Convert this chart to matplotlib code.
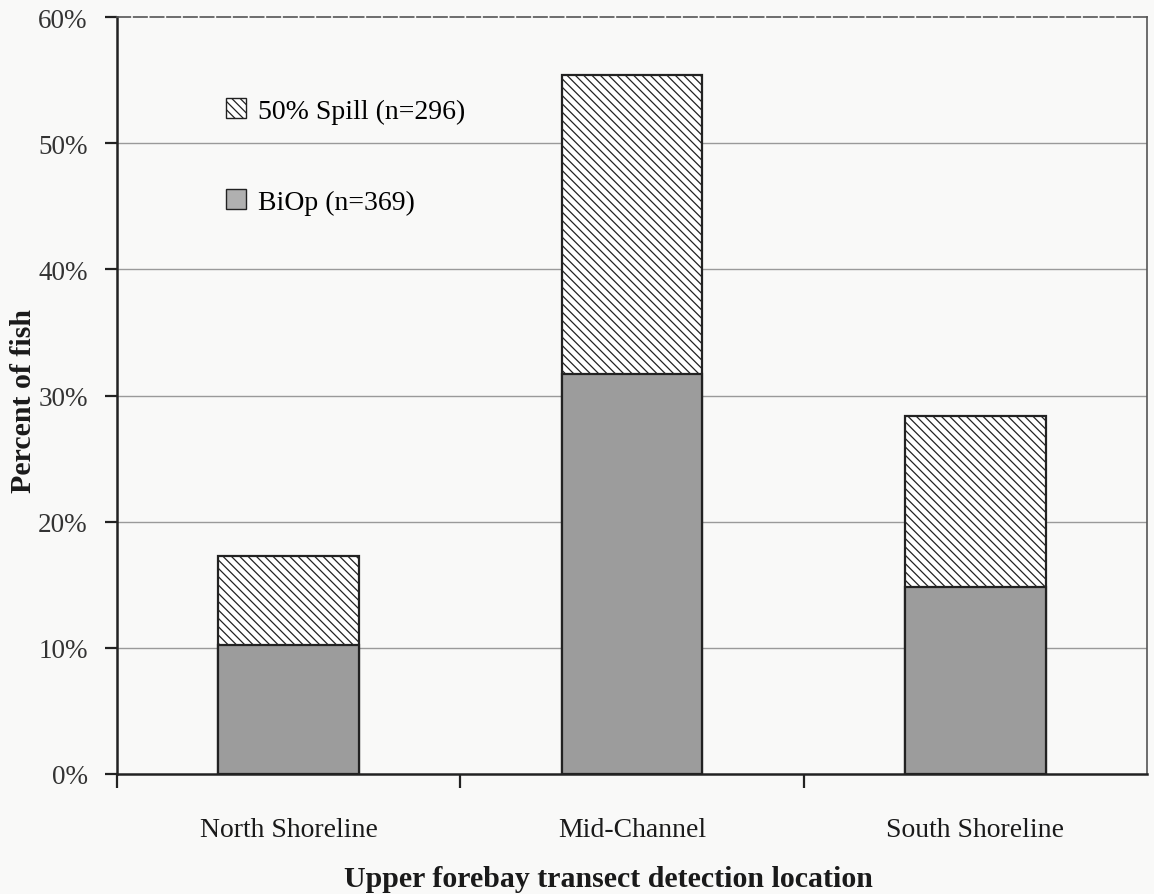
import matplotlib
matplotlib.use("Agg")
import matplotlib.pyplot as plt
from matplotlib.patches import Patch
import numpy as np

categories = ["North Shoreline", "Mid-Channel", "South Shoreline"]
spill_pct = [17.3, 55.4, 28.4]   # 50% Spill (n=296)
biop_pct = [10.2, 31.7, 14.8]    # BiOp (n=369)
spill_label = "50% Spill (n=296)"
biop_label = "BiOp (n=369)"
yticks = [0, 10, 20, 30, 40, 50, 60]
ytick_labels = ["0%", "10%", "20%", "30%", "40%", "50%", "60%"]

plt.rcParams['font.family'] = ['Liberation Serif', 'DejaVu Serif']
plt.rcParams['hatch.linewidth'] = 0.9
plt.rcParams['hatch.color'] = '#4a4a4a'

fig = plt.figure(figsize=(11.54, 8.95), dpi=100, facecolor='#f9f9f8')
ax = fig.add_axes([117/1154, 1-775/895, (1147-117)/1154, (775-18)/895])
ax.set_facecolor('#f9f9f8')

x = np.arange(len(categories))
w = 0.41
ax.bar(x, spill_pct, width=w, facecolor='white', edgecolor='#222222',
       hatch='\\\\\\\\', linewidth=1.6, zorder=3)
ax.bar(x, biop_pct, width=w, facecolor='#9c9c9c', edgecolor='#222222',
       linewidth=1.6, zorder=4)

ax.set_xlim(-0.5, 2.5)
ax.set_ylim(0, 60)
ax.set_yticks(yticks)
ax.set_yticklabels(ytick_labels, fontsize=19.5, color='#333333')
ax.tick_params(axis='y', direction='out', length=9, width=1.6, pad=12, color='#222222')

ax.set_xticks([-0.5, 0.5, 1.5])
ax.set_xticklabels([])
ax.set_xticks(x, minor=True)
ax.set_xticklabels(categories, minor=True, fontsize=20, color='#1a1a1a')
ax.tick_params(axis='x', which='major', direction='out', length=10, width=1.6, color='#222222')
ax.tick_params(axis='x', which='minor', length=0, pad=31)

for yv in yticks[1:-1]:
    ax.axhline(yv, color='#9a9a9a', linewidth=1.0, zorder=1)

for s in ['left', 'bottom']:
    ax.spines[s].set_linewidth(1.8)
    ax.spines[s].set_color('#222222')
ax.spines['top'].set_color('#555555')
ax.spines['top'].set_linewidth(1.2)
ax.spines['top'].set_linestyle((0, (8, 2)))
ax.spines['right'].set_color('#555555')
ax.spines['right'].set_linewidth(1.2)

handles = [Patch(facecolor='white', edgecolor='#222222', hatch='\\\\\\\\', label=spill_label),
           Patch(facecolor='#b0b0b0', edgecolor='#222222', label=biop_label)]
fig.legend(handles=handles, loc='upper left', bbox_to_anchor=(226/1154, 1-99/895),
           bbox_transform=fig.transFigure, frameon=False, fontsize=20,
           handlelength=0.72, handleheight=0.72, handletextpad=0.45,
           labelspacing=2.35, borderpad=0, borderaxespad=0)

fig.text(24/1154, 1-401/895, "Percent of fish", rotation=90, ha='center', va='center',
         fontsize=21.5, fontweight='bold', color='#1a1a1a')
fig.text(608/1154, 1-887/895, "Upper forebay transect detection location", ha='center',
         va='baseline', fontsize=21.5, fontweight='bold', color='#1a1a1a')

fig.savefig("out.png", dpi=100, facecolor=fig.get_facecolor())
